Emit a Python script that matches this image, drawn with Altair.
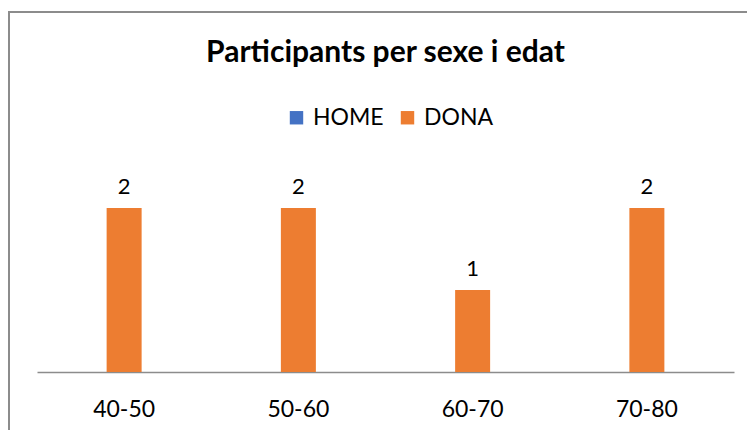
import altair as alt
import pandas as pd

categories = ["40-50", "50-60", "60-70", "70-80"]
dona = [2, 2, 1, 2]
series = ["HOME", "DONA"]
colors = ["#4472C4", "#ED7D31"]
title_text = "Participants per sexe i edat"

df = pd.DataFrame({"edat": categories, "valor": dona, "sexe": ["DONA"] * len(categories)})
one = pd.DataFrame({"a": [0]})

FONT = "Lato"
W, H = 697, 205

x = alt.X("edat:N", sort=categories, title=None,
          scale=alt.Scale(paddingInner=0, paddingOuter=0),
          axis=alt.Axis(labelAngle=0, ticks=False, domainColor="#8c8c8c", domainWidth=1.5,
                        labelFontSize=23, labelFont=FONT, labelColor="#000000", labelPadding=26,
                        grid=False))
y = alt.Y("valor:Q", scale=alt.Scale(domain=[0, 2.5]), axis=None)

bars = alt.Chart(df).mark_bar(size=35).encode(
    x=x, y=y,
    color=alt.Color("sexe:N", scale=alt.Scale(domain=series, range=colors),
                    legend=alt.Legend(title=None, orient="none", legendX=248, legendY=-61,
                                      direction="horizontal", symbolType="square", symbolSize=180,
                                      symbolStrokeWidth=0, labelFontSize=23, labelFont=FONT,
                                      labelColor="#000000", columnPadding=12, labelOffset=5))
)

labels = alt.Chart(df).mark_text(baseline="bottom", dy=-9, fontSize=22, font=FONT, color="#000000").encode(
    x=alt.X("edat:N", sort=categories), y=y, text="valor:Q"
)

title = alt.Chart(one).mark_text(fontSize=30, font=FONT, fontWeight="bold", color="#000000",
                                 baseline="middle").encode(
    x=alt.value(W / 2), y=alt.value(-114), text=alt.value(title_text)
)

border_v = alt.Chart(one).mark_rule(color="#8c8c8c", strokeWidth=2).encode(
    x=alt.value(-28), y=alt.value(-155), y2=alt.value(H + 60)
)
border_h = alt.Chart(one).mark_rule(color="#8c8c8c", strokeWidth=2).encode(
    x=alt.value(-29), x2=alt.value(W + 20), y=alt.value(-155)
)

chart = alt.layer(border_v, border_h, bars, labels, title).properties(
    width=W, height=H,
    autosize=alt.AutoSizeParams(type="none"),
    padding={"left": 29, "top": 159, "right": 13, "bottom": 58},
).configure_view(stroke=None)

chart.save("out.html", embed_options={"renderer": "svg", "actions": False})
